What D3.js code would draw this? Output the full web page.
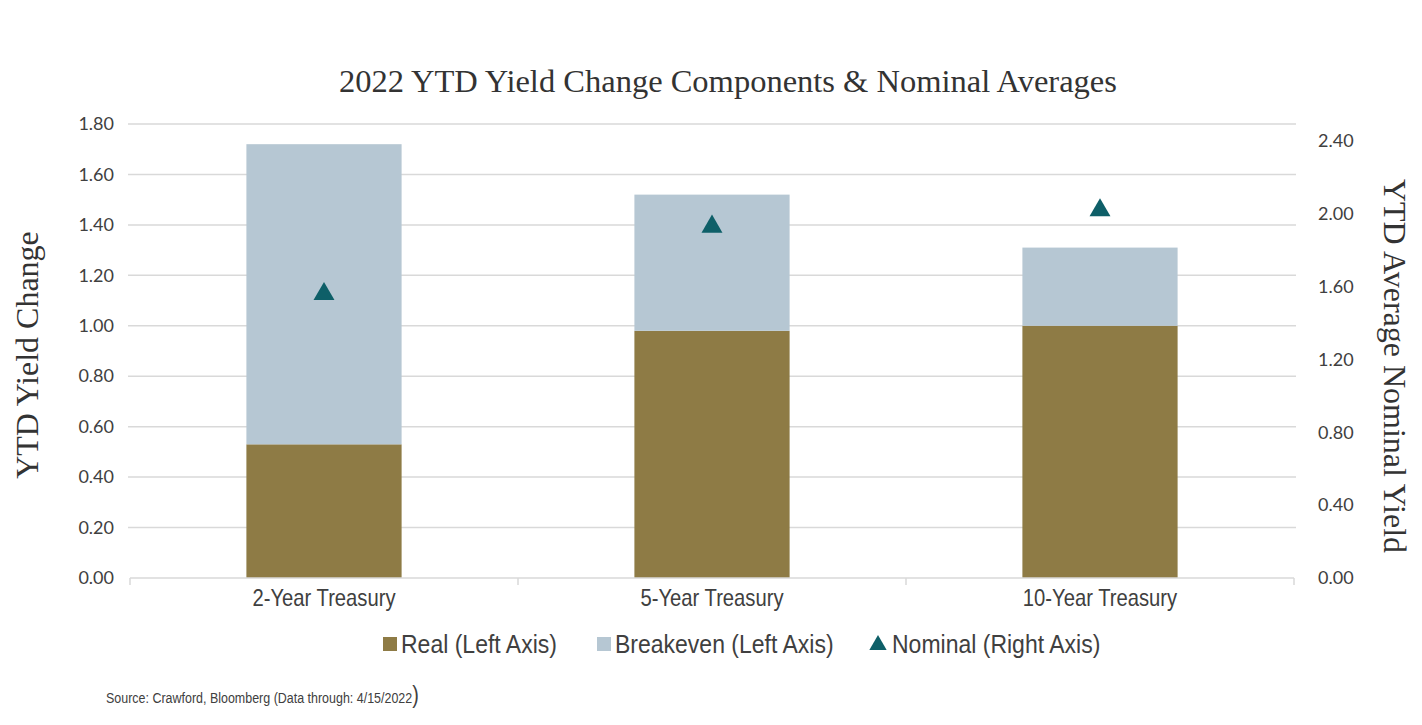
<!DOCTYPE html>
<html lang="en">
<head>
<meta charset="utf-8">
<title>2022 YTD Yield Change</title>
<script src="https://d3js.org/d3.v7.min.js"></script>
<style>
  body { margin: 0; background: #fff; }
  .tick text { fill: #404040; }
</style>
</head>
<body>
<script>
// data
var categories = ["2-Year Treasury", "5-Year Treasury", "10-Year Treasury"];
var realValues = [0.53, 0.98, 1.00];
var breakevenValues = [1.19, 0.54, 0.31];
var nominalValues = [1.56, 1.93, 2.02];
var leftTicks = [0, 0.2, 0.4, 0.6, 0.8, 1.0, 1.2, 1.4, 1.6, 1.8];
var rightTicks = [0, 0.4, 0.8, 1.2, 1.6, 2.0, 2.4];

var W = 1422, H = 725;
var margin = { top: 124, right: 128, bottom: 147, left: 130 };
var w = W - margin.left - margin.right;
var h = H - margin.top - margin.bottom;

var colReal = "#8e7b45", colBreak = "#b6c7d3", colNom = "#0e5f68";
var grid = "#d9d9d9", txt = "#404040";
var narrow = "'Liberation Sans Narrow', 'Arial Narrow', 'Liberation Sans', sans-serif";

var svg = d3.select("body").append("svg").attr("width", W).attr("height", H);
var g = svg.append("g").attr("transform", "translate(" + margin.left + "," + margin.top + ")");

var x = d3.scaleBand().domain(categories).range([0, w]).paddingInner(0.6).paddingOuter(0.3);
var xOuter = d3.scaleBand().domain(categories).range([0, w]);
var yL = d3.scaleLinear().domain([0, 1.8]).range([h, 0]);
var yR = d3.scaleLinear().domain([0, 2.494]).range([h, 0]);

// gridlines
g.append("g")
  .selectAll("line").data(leftTicks.slice(1)).enter().append("line")
  .attr("x1", -2).attr("x2", w + 2)
  .attr("y1", function(d) { return yL(d); }).attr("y2", function(d) { return yL(d); })
  .attr("stroke", grid).attr("stroke-width", 1.5);

// bars
var rows = categories.map(function(c, i) {
  return { cat: c, real: realValues[i], brk: breakevenValues[i], nom: nominalValues[i] };
});

g.selectAll(".real").data(rows).enter().append("rect")
  .attr("x", function(d) { return x(d.cat); })
  .attr("width", x.bandwidth())
  .attr("y", function(d) { return yL(d.real); })
  .attr("height", function(d) { return h - yL(d.real); })
  .attr("fill", colReal);

g.selectAll(".brk").data(rows).enter().append("rect")
  .attr("x", function(d) { return x(d.cat); })
  .attr("width", x.bandwidth())
  .attr("y", function(d) { return yL(d.real + d.brk); })
  .attr("height", function(d) { return yL(d.real) - yL(d.real + d.brk); })
  .attr("fill", colBreak);

// nominal triangles
var tri = d3.symbol().type(d3.symbolTriangle).size(190);
g.selectAll(".nom").data(rows).enter().append("path")
  .attr("d", tri)
  .attr("transform", function(d) { return "translate(" + (x(d.cat) + x.bandwidth() / 2) + "," + yR(d.nom) + ")"; })
  .attr("fill", colNom);

// bottom axis line + category ticks
g.append("line").attr("x1", 0).attr("x2", w).attr("y1", h).attr("y2", h)
  .attr("stroke", grid).attr("stroke-width", 1.5);
var dividers = categories.map(function(c) { return xOuter(c); }).concat([w]);
g.selectAll(".div").data(dividers).enter().append("line")
  .attr("x1", function(d) { return d; }).attr("x2", function(d) { return d; })
  .attr("y1", h).attr("y2", h + 7)
  .attr("stroke", grid).attr("stroke-width", 1.5);

g.selectAll(".cat").data(categories).enter().append("text")
  .attr("transform", function(d) { return "translate(" + (x(d) + x.bandwidth() / 2) + "," + (h + 28) + ") scale(0.88,1)"; })
  .attr("text-anchor", "middle")
  .attr("fill", txt)
  .style("font-family", narrow)
  .style("font-size", "23px")
  .text(function(d) { return d; });

// left axis
var axL = g.append("g")
  .call(d3.axisLeft(yL).tickValues(leftTicks).tickFormat(d3.format(".2f")).tickSize(0).tickPadding(16));
axL.select(".domain").remove();
axL.selectAll("text").style("font-family", "Lato, sans-serif").style("font-size", "18px");

// right axis
var axR = g.append("g").attr("transform", "translate(" + w + ",0)")
  .call(d3.axisRight(yR).tickValues(rightTicks).tickFormat(d3.format(".2f")).tickSize(0).tickPadding(24));
axR.select(".domain").remove();
axR.selectAll("text").style("font-family", "Lato, sans-serif").style("font-size", "18px");

// title
svg.append("text")
  .attr("x", 728).attr("y", 92)
  .attr("text-anchor", "middle")
  .attr("fill", "#333")
  .style("font-family", "'Liberation Serif', serif")
  .style("font-size", "32.5px")
  .text("2022 YTD Yield Change Components & Nominal Averages");

// axis titles
svg.append("text")
  .attr("transform", "translate(38,355) rotate(-90)")
  .attr("text-anchor", "middle")
  .attr("fill", "#333")
  .style("font-family", "'Liberation Serif', serif")
  .style("font-size", "32px")
  .text("YTD Yield Change");

svg.append("text")
  .attr("transform", "translate(1384,366) rotate(90)")
  .attr("text-anchor", "middle")
  .attr("fill", "#333")
  .style("font-family", "'Liberation Serif', serif")
  .style("font-size", "32px")
  .text("YTD Average Nominal Yield");

// legend
var legendItems = [
  { label: "Real (Left Axis)", color: colReal, shape: "rect", x: 383 },
  { label: "Breakeven (Left Axis)", color: colBreak, shape: "rect", x: 597 },
  { label: "Nominal (Right Axis)", color: colNom, shape: "tri", x: 870 }
];
var leg = svg.append("g");
legendItems.forEach(function(it) {
  if (it.shape === "rect") {
    leg.append("rect").attr("x", it.x).attr("y", 637).attr("width", 14).attr("height", 14).attr("fill", it.color);
  } else {
    leg.append("path").attr("d", d3.symbol().type(d3.symbolTriangle).size(130))
      .attr("transform", "translate(" + (it.x + 8) + ",645)").attr("fill", it.color);
  }
  leg.append("text")
    .attr("transform", "translate(" + (it.x + (it.shape === "rect" ? 18 : 22)) + ",653) scale(0.92,1)")
    .attr("fill", txt)
    .style("font-family", narrow)
    .style("font-size", "25px")
    .text(it.label);
});

// source
var src = svg.append("text")
  .attr("transform", "translate(106,703) scale(0.86,1)")
  .attr("fill", txt)
  .style("font-family", narrow)
  .style("font-size", "14.5px");
src.append("tspan").text("Source: Crawford, Bloomberg (Data through: 4/15/2022");
src.append("tspan").style("font-size", "23px").text(")");
</script>
</body>
</html>
